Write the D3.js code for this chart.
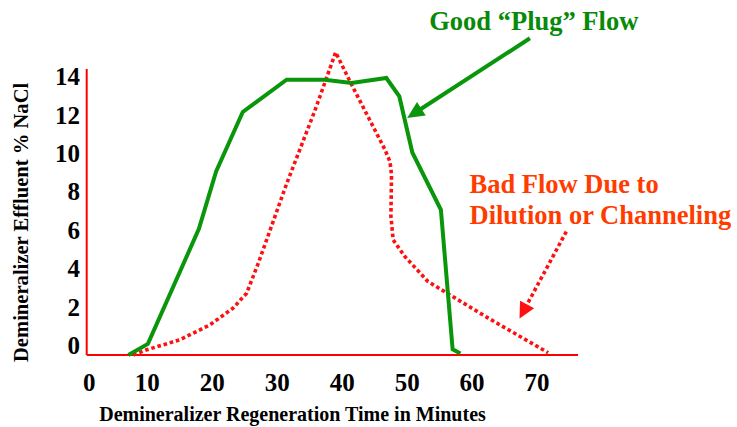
<!DOCTYPE html>
<html><head><meta charset="utf-8">
<script src="https://cdn.jsdelivr.net/npm/d3@7"></script>
<style>
html,body{margin:0;padding:0;background:#fff;}
svg{display:block;}
text{font-family:"Liberation Serif","Times New Roman",serif;font-weight:bold;}
</style></head>
<body>
<svg id="chart" width="737" height="427"></svg>
<script>
// ---- data ----
const xTicks = [0, 10, 20, 30, 40, 50, 60, 70];
const yTicks = [0, 2, 4, 6, 8, 10, 12, 14];
const goodTime = [7.1, 10.1, 17.95, 20.6, 24.7, 31.45, 37.3, 41.45, 46.8, 48.8, 50.8, 55.2, 57.0, 58.2];
const goodNaCl = [-0.5, 0.08, 6.07, 9.06, 12.16, 13.84, 13.84, 13.67, 13.93, 12.97, 10.05, 7.06, -0.2, -0.42];
const badTime = [7.85, 9.9, 15.0, 19.65, 23.2, 25.3, 27.1, 31.45, 35.8, 39.0, 41.2, 46.6, 47.35, 47.6, 47.5, 47.85, 49.65, 53.2, 56.6, 62.5, 71.7];
const badNaCl = [-0.5, -0.23, 0.29, 1.07, 1.94, 2.72, 4.29, 8.42, 12.23, 15.27, 13.75, 10.19, 9.58, 8.89, 6.75, 5.5, 4.63, 3.33, 2.63, 1.42, -0.38];
const xTitle = "Demineralizer Regeneration Time in Minutes";
const yTitle = "Demineralizer Effluent % NaCl";
const goodLabel = "Good \u201cPlug\u201d Flow";
const badLabel = ["Bad Flow Due to", "Dilution or Channeling"];

const svg = d3.select("#chart");
const x = d3.scaleLinear().domain([0.68, 76.3]).range([86.7, 578]);
const y = d3.scaleLinear().domain([-0.5, 14.4]).range([355, 69]);

const GREEN = "#0a960a", GREEN_T = "#078a07", RED = "#ff1010", ORANGE = "#ff3c00";

// axes lines (red)
svg.append("line").attr("x1", x(0.68)).attr("x2", x(0.68)).attr("y1", y(14.4)).attr("y2", y(-0.5))
  .attr("stroke", "#ff0000").attr("stroke-width", 2);
svg.append("line").attr("x1", x(0.68)).attr("x2", x(76.3)).attr("y1", y(-0.5)).attr("y2", y(-0.5))
  .attr("stroke", "#ff0000").attr("stroke-width", 2);

// y tick labels
svg.append("g").selectAll("text").data(yTicks).join("text")
  .attr("x", 80).attr("y", d => y(d)).attr("dy", "0.34em")
  .attr("text-anchor", "end").attr("font-size", 25).attr("fill", "#000")
  .text(d => d);
// x tick labels
svg.append("g").selectAll("text").data(xTicks).join("text")
  .attr("x", d => Math.max(x(d), x(0.68) + 2.6)).attr("y", 391)
  .attr("text-anchor", "middle").attr("font-size", 25).attr("fill", "#000")
  .text(d => d);

// titles
svg.append("text").attr("x", 292.5).attr("y", 421).attr("text-anchor", "middle")
  .attr("font-size", 20).attr("fill", "#000").text(xTitle);
svg.append("text").attr("transform", "translate(28.3,222.4) rotate(-90)").attr("text-anchor", "middle")
  .attr("font-size", 20.6).attr("fill", "#000").text(yTitle);

// series
const line = d3.line().x(d => x(d[0])).y(d => y(d[1]));
svg.append("path").datum(badTime.map((t, i) => [t, badNaCl[i]]))
  .attr("d", line).attr("fill", "none").attr("stroke", RED)
  .attr("stroke-width", 3.6).attr("stroke-dasharray", "3.6,2.8");
svg.append("path").datum(goodTime.map((t, i) => [t, goodNaCl[i]]))
  .attr("d", line).attr("fill", "none").attr("stroke", GREEN)
  .attr("stroke-width", 4).attr("stroke-linejoin", "miter");

// annotation arrows
function arrow(from, to, color, dashed, headLen, headW) {
  const x1 = x(from[0]), y1 = y(from[1]), x2 = x(to[0]), y2 = y(to[1]);
  const dx = x2 - x1, dy = y2 - y1, L = Math.hypot(dx, dy);
  const ux = dx / L, uy = dy / L;
  const bx = x2 - ux * headLen, by = y2 - uy * headLen;
  const l = svg.append("line").attr("x1", x1).attr("y1", y1).attr("x2", bx + ux * 2).attr("y2", by + uy * 2)
    .attr("stroke", color).attr("stroke-width", dashed ? 3.6 : 4);
  if (dashed) l.attr("stroke-dasharray", "3.6,2.8");
  svg.append("path").attr("d", `M${x2},${y2}L${bx - uy * headW},${by + ux * headW}L${bx + uy * headW},${by - ux * headW}Z`)
    .attr("fill", color);
}
arrow([68.9, 16.0], [50.0, 11.85], GREEN, false, 17, 8);
arrow([74.5, 5.93], [67.3, 1.4], RED, true, 16, 8);

// annotation labels
svg.append("text").attr("x", x(53.4)).attr("y", 30).attr("font-size", 26.5).attr("fill", GREEN_T).text(goodLabel);
svg.append("g").selectAll("text").data(badLabel).join("text")
  .attr("x", x(59.6)).attr("y", (d, i) => 193.3 + i * 30.7)
  .attr("font-size", 26.5).attr("fill", ORANGE).text(d => d);
</script>
</body></html>
